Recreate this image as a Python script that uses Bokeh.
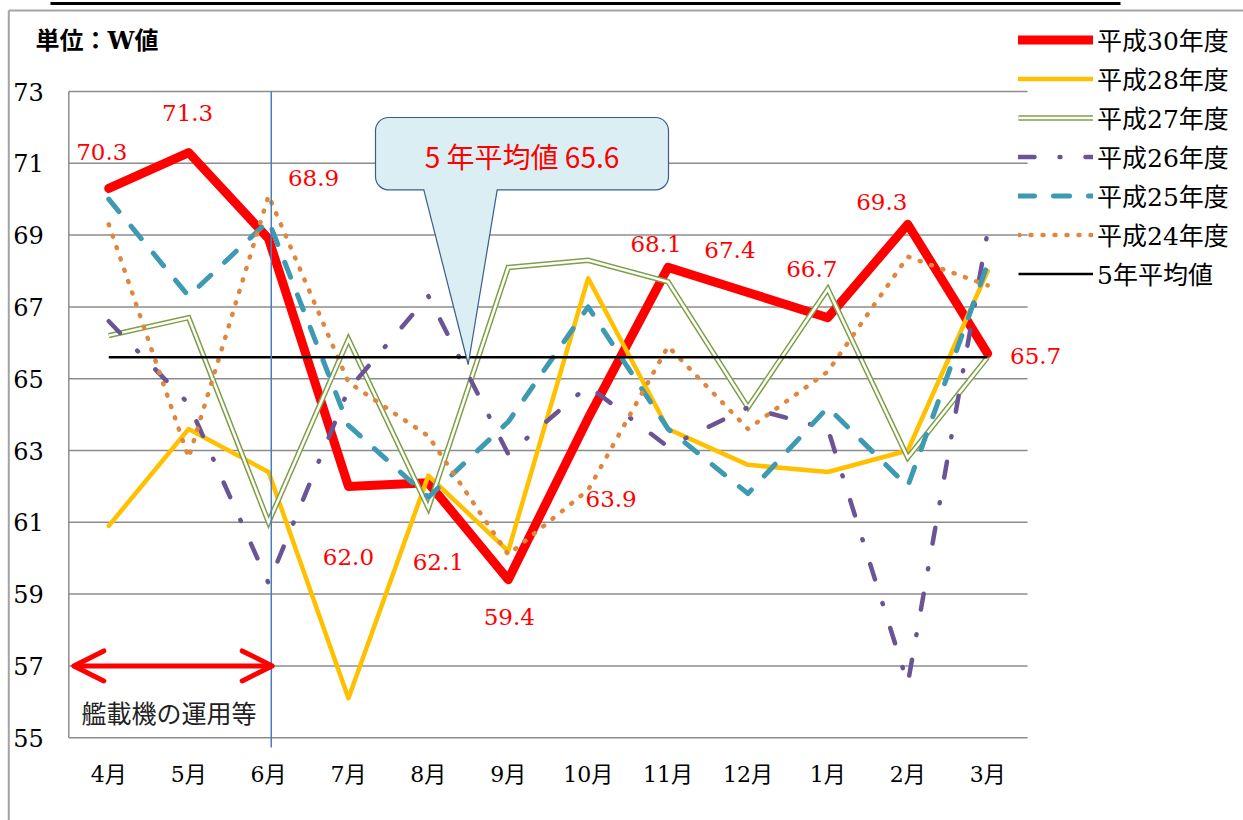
from bokeh.plotting import figure
from bokeh.models import (Range1d, FixedTicker, Legend, LegendItem,
                          LabelSet, Label, Arrow, OpenHead, ColumnDataSource)
from bokeh.core.properties import value
from bokeh.embed import file_html
from bokeh.resources import INLINE

# ---------------- data ----------------
months = ["4月", "5月", "6月", "7月", "8月", "9月", "10月", "11月", "12月", "1月", "2月", "3月"]
h30 = [70.3, 71.3, 68.9, 62.0, 62.1, 59.4, 63.9, 68.1, 67.4, 66.7, 69.3, 65.7]
h28 = [60.9, 63.6, 62.4, 56.1, 62.3, 60.2, 67.8, 63.6, 62.6, 62.4, 63.0, 68.0]
h27 = [66.2, 66.7, 61.0, 66.1, 61.4, 68.1, 68.3, 67.7, 64.2, 67.5, 62.8, 65.6]
h26 = [66.6, 64.3, 59.3, 64.7, 67.3, 62.9, 64.8, 63.1, 64.2, 63.6, 56.5, 69.1]
h25 = [70.0, 67.3, 69.4, 63.7, 61.7, 63.8, 67.0, 63.6, 61.8, 64.2, 62.0, 68.2]
h24 = [69.3, 62.8, 70.1, 64.9, 63.4, 60.1, 61.9, 65.9, 63.6, 65.2, 68.4, 67.6]
avg5 = 65.6
series_names = ["平成30年度", "平成28年度", "平成27年度", "平成26年度", "平成25年度", "平成24年度", "5年平均値"]
y_ticks = [55, 57, 59, 61, 63, 65, 67, 69, 71, 73]

# label placement (screen px offsets, styling only)
lab_dx = [-7, -1, 45, 0, 10, 1, 23, -12, -18, -16, -26, 48]
lab_dy = [36, 40, 61, -71, -79, -37, -81, 23, 43, 49, 22, -2]

SERIF = "DejaVu Serif, Noto Sans CJK JP"
SANS = "Noto Sans CJK JP"

# ---------------- layout geometry ----------------
W, H = 1243, 820
n = len(months)
xpos = [i + 0.5 for i in range(n)]          # month slot centres
ymin, ymax = min(y_ticks), max(y_ticks)
X0, PX = 68.3, 79.9                          # canvas px of slot origin, px per slot
Y0, PY = 91.0, 35.9                          # canvas px of top tick, px per unit


def dx(px):   # canvas x pixel -> data x (for decorations only)
    return (px - X0) / PX


def dy(py):   # canvas y pixel -> data y (for decorations only)
    return ymax - (py - Y0) / PY


p = figure(width=W, height=H,
           x_range=Range1d(dx(0), dx(W)), y_range=Range1d(dy(H), dy(0)),
           output_backend="svg", toolbar_location=None, min_border=0)
p.outline_line_color = None
p.background_fill_color = "white"
p.xgrid.grid_line_color = None
p.ygrid.grid_line_color = None

# axes drawn inside the canvas at fixed data positions
p.yaxis.fixed_location = 0
p.yaxis.ticker = FixedTicker(ticks=y_ticks)
p.yaxis.axis_line_color = None
p.yaxis.major_tick_line_color = None
p.yaxis.minor_tick_line_color = None
p.yaxis.major_label_standoff = 19
p.yaxis.major_label_text_font = "DejaVu Serif"
p.yaxis.major_label_text_font_size = "24px"
p.yaxis.major_label_text_color = "black"

p.xaxis.fixed_location = ymin
p.xaxis.ticker = FixedTicker(ticks=xpos)
p.xaxis.major_label_overrides = {x: m for x, m in zip(xpos, months)}
p.xaxis.axis_line_color = None
p.xaxis.major_tick_line_color = None
p.xaxis.minor_tick_line_color = None
p.xaxis.major_label_standoff = 18
p.xaxis.major_label_text_font = SERIF
p.xaxis.major_label_text_font_size = "22px"
p.xaxis.major_label_text_color = "black"

# page frame lines (document border around the chart)
p.segment(x0=[dx(8.3), dx(8.3)], x1=[dx(8.3), dx(W + 5)],
          y0=[dy(H + 5), dy(10)], y1=[dy(10), dy(10)],
          line_color="#a3a3a3", line_width=2)
p.segment(x0=[dx(50)], x1=[dx(1120)], y0=[dy(3)], y1=[dy(3)],
          line_color="black", line_width=3)

# horizontal grid lines and left axis line over the 12 month slots
GRID = "#8c8c8c"
p.segment(x0=[0] * len(y_ticks), x1=[n] * len(y_ticks), y0=y_ticks, y1=y_ticks,
          line_color=GRID, line_width=1.5)
p.segment(x0=[0], x1=[0], y0=[ymin], y1=[ymax], line_color=GRID, line_width=1.5)

# series lines (Excel order: first series at bottom)
r30 = p.line(xpos, h30, line_color="#FF0000", line_width=9,
             line_join="round", line_cap="round")
r28 = p.line(xpos, h28, line_color="#FFC000", line_width=4.5,
             line_join="round", line_cap="round")
r27a = p.line(xpos, h27, line_color="#7F9F47", line_width=5.5, line_join="miter")
r27b = p.line(xpos, h27, line_color="white", line_width=2.5, line_join="miter")
r26 = p.line(xpos, h26, line_color="#6A5495", line_width=4.5,
             line_dash="16 25 1 25", line_cap="round", line_join="round")
r25 = p.line(xpos, h25, line_color="#3D9AB2", line_width=5,
             line_dash="16 19", line_cap="round", line_join="round")
r24 = p.line(xpos, h24, line_color="#E0873F", line_width=4.5,
             line_dash="1 11", line_cap="round", line_join="round")
ravg = p.line(xpos, [avg5] * n, line_color="black", line_width=2.5)

# vertical marker just right of June
jun = months.index("6月") + 0.534
p.segment(x0=[jun], x1=[jun], y0=[dy(747)], y1=[ymax], line_color="#4A7EBB", line_width=1.5)

# callout "5年平均値"
CALL_FILL = "#DBEEF4"
CALL_LINE = "#385D8A"
bl, br, bt, bb = dx(375), dx(668), dy(117), dy(189.3)
tl, tr, tip_x, tip_y = dx(423.3), dx(496.7), dx(467.7), dy(364)
p.quad(left=[bl], right=[br], top=[bt], bottom=[bb],
       fill_color=CALL_FILL, line_color=CALL_LINE, line_width=1.2, border_radius=13)
p.patch([tl, tip_x, tr], [bb + 0.06, tip_y, bb + 0.06], fill_color=CALL_FILL, line_color=None)
p.multi_line([[tl, tip_x], [tr, tip_x]], [[bb, tip_y], [bb, tip_y]],
             line_color=CALL_LINE, line_width=1.2)
p.add_layout(Label(x=(bl + br) / 2, y=dy(155), text=f"5 年平均値 {avg5:.1f}",
                   text_align="center", text_baseline="middle",
                   text_color="#FF0000", text_font=SANS, text_font_size="28px"))

# arrow and note
head_kw = dict(size=30, line_color="#FF0000", line_width=5, line_cap="round", line_join="round")
p.add_layout(Arrow(x_start=dx(73.3), y_start=57, x_end=dx(271.7), y_end=57,
                   start=OpenHead(**head_kw), end=OpenHead(**head_kw),
                   line_color="#FF0000", line_width=5))
p.add_layout(Label(x=dx(81), y=dy(711), text="艦載機の運用等", text_align="left",
                   text_baseline="middle", text_color="#222222",
                   text_font=SANS, text_font_size="25px"))

# title
p.add_layout(Label(x=dx(35), y=dy(40), text="単位：W値", text_align="left",
                   text_baseline="middle", text_color="black", text_font_style="bold",
                   text_font=SERIF, text_font_size="24px"))

# data labels for 平成30年度
src = ColumnDataSource(dict(x=xpos, y=h30, t=[f"{v:.1f}" for v in h30],
                            xo=lab_dx, yo=lab_dy))
p.add_layout(LabelSet(x="x", y="y", text="t", x_offset="xo", y_offset="yo", source=src,
                      text_align="center", text_baseline="middle", text_color="#FF0000",
                      text_font=value("DejaVu Serif"), text_font_size="23px"))

# legend (location = bottom-left corner, px from the canvas bottom-left)
items = [LegendItem(label=series_names[0], renderers=[r30]),
         LegendItem(label=series_names[1], renderers=[r28]),
         LegendItem(label=series_names[2], renderers=[r27a, r27b]),
         LegendItem(label=series_names[3], renderers=[r26]),
         LegendItem(label=series_names[4], renderers=[r25]),
         LegendItem(label=series_names[5], renderers=[r24]),
         LegendItem(label=series_names[6], renderers=[ravg])]
legend = Legend(items=items, location=(1018, H - 292.5), orientation="vertical",
                glyph_width=75, glyph_height=39, label_height=39, label_standoff=4,
                spacing=0, padding=0, margin=0,
                background_fill_alpha=0, border_line_color=None,
                label_text_font=SERIF, label_text_font_size="25px",
                label_text_color="black")
p.add_layout(legend)

open("out.html", "w").write(file_html(p, INLINE))
